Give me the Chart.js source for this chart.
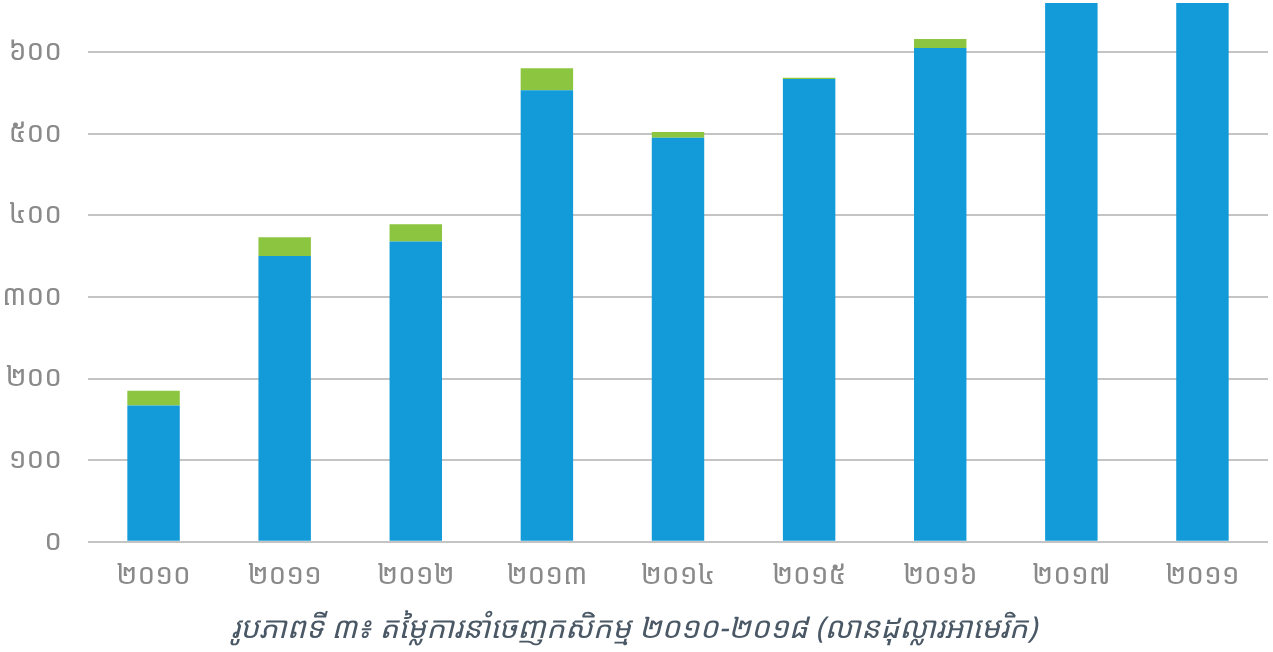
<!DOCTYPE html>
<html>
<head>
<meta charset="utf-8">
<script src="https://cdn.jsdelivr.net/npm/chart.js@4"></script>
<style>
html,body{margin:0;padding:0;background:#fff;}
#wrap{position:relative;width:1273px;height:652px;}
</style>
</head>
<body>
<div id="wrap"><canvas id="c" width="1273" height="652"></canvas></div>
<script>
const categories = ['២០១០','២០១១','២០១២','២០១៣','២០១៤','២០១៥','២០១៦','២០១៧','២០១១'];
const blueValues = [167, 350, 368, 553, 495, 567, 605, 700, 700];
const greenValues = [18, 23, 21, 27, 7, 1.5, 11, 0, 0];
const yTickValues = [0, 100, 200, 300, 400, 500, 600];
const yTickLabels = ['០', '១០០', '២០០', '៣០០', '៤០០', '៥០០', '៦០០'];
const chartTitle = 'រូបភាពទី ៣៖ តម្លៃការនាំចេញកសិកម្ម ២០១០-២០១៨ (លានដុល្លារអាមេរិក)';

const khFont = "'Noto Sans Khmer','Khmer OS','Noto Sans','DejaVu Sans',sans-serif";

new Chart(document.getElementById('c'), {
  type: 'bar',
  data: {
    labels: categories,
    datasets: [
      {data: blueValues, backgroundColor: '#129bd8', barPercentage: 0.4, categoryPercentage: 1.0},
      {data: greenValues, backgroundColor: '#8cc540', barPercentage: 0.4, categoryPercentage: 1.0}
    ]
  },
  options: {
    responsive: false,
    animation: false,
    layout: {padding: {top: 3, right: 5, left: 0, bottom: 5}},
    plugins: {
      legend: {display: false},
      tooltip: {enabled: false},
      title: {
        display: true,
        position: 'bottom',
        text: chartTitle,
        color: '#4a5866',
        font: {family: khFont, size: 30, style: 'italic', weight: 'normal', lineHeight: 1.2},
        padding: {top: 0, bottom: 0}
      }
    },
    scales: {
      x: {
        stacked: true,
        afterFit: (axis) => { axis.paddingLeft = 0; axis.paddingRight = 0; },
        grid: {display: false, drawTicks: false},
        border: {display: false},
        ticks: {color: '#8a8a8a', font: {family: khFont, size: 28, lineHeight: 0.8}, padding: 23.4}
      },
      y: {
        stacked: true,
        min: 0,
        max: 660,
        afterBuildTicks: (axis) => { axis.ticks = yTickValues.map(v => ({value: v})); },
        afterFit: (axis) => { axis.paddingTop = 0; axis.paddingBottom = 0; axis.width = 88; },
        grid: {color: '#c4c4c4', lineWidth: 2, drawTicks: false},
        border: {display: false},
        ticks: {
          color: '#8a8a8a',
          font: {family: khFont, size: 28},
          padding: 26,
          callback: (v) => { const i = yTickValues.indexOf(v); return i >= 0 ? yTickLabels[i] : ''; }
        }
      }
    }
  }
});
</script>
</body>
</html>
